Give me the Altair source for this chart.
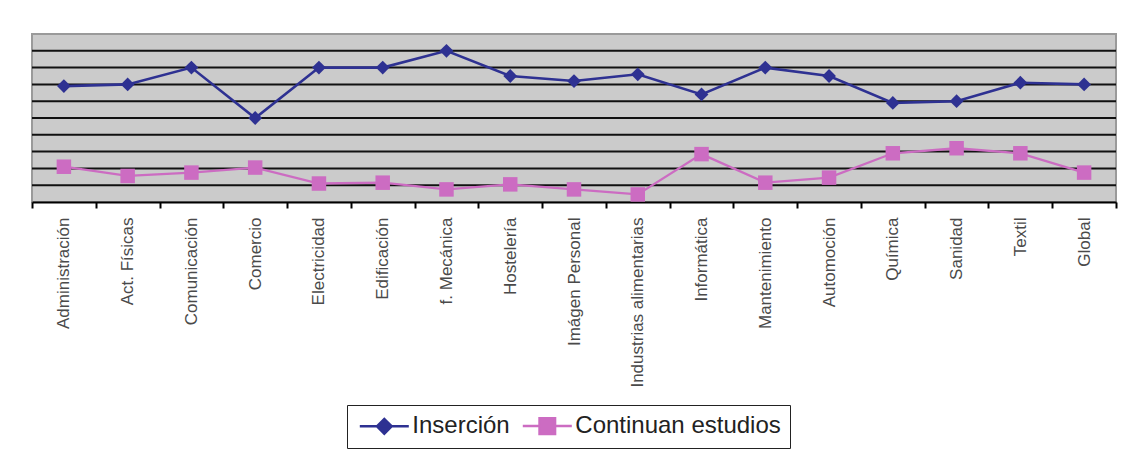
import altair as alt
import pandas as pd

categories = ["Administración", "Act.  Físicas", "Comunicación", "Comercio", "Electricidad",
              "Edificación", "f.  Mecánica", "Hostelería", "Imágen  Personal",
              "Industrias  alimentarias", "Informática", "Mantenimiento", "Automoción",
              "Química", "Sanidad", "Textil", "Global"]
insercion = [69, 70, 80, 50, 80, 80, 90, 75, 72, 76, 64, 80, 75, 59, 60, 71, 70]
continuan = [21, 15.5, 17.5, 20.5, 11, 11.5, 7.5, 10.5, 7.5, 4.5, 28.5, 11.5, 14.5, 29, 32, 29, 17.5]
series_names = ["Inserción", "Continuan estudios"]
series_colors = ["#2E3192", "#CC6CC2"]
y_ticks = [0, 10, 20, 30, 40, 50, 60, 70, 80, 90, 100]
grid_vals = [10, 20, 30, 40, 50, 60, 70, 80, 90]

rows = []
for i, c in enumerate(categories):
    rows.append({"cat": c, "serie": series_names[0], "valor": insercion[i]})
    rows.append({"cat": c, "serie": series_names[1], "valor": continuan[i]})
df = pd.DataFrame(rows)

FONT = "Liberation Sans"

x_enc = alt.X("cat:N", sort=categories, title=None,
              scale=alt.Scale(type="band", domain=categories, paddingInner=0, paddingOuter=0),
              axis=alt.Axis(labelAngle=-90, labelFont=FONT, labelFontSize=17, labelColor="#4a4a4a",
                            labelPadding=9, tickBand="extent", tickSize=6, tickWidth=2,
                            tickColor="black", domainColor="black", domainWidth=2, grid=False,
                            labelBaseline="middle", labelAlign="right"))
y_enc = alt.Y("valor:Q", title=None,
              scale=alt.Scale(domain=[0, 100], nice=False, zero=True),
              axis=alt.Axis(values=y_ticks, labels=False, tickSize=5, tickWidth=2, tickColor="black",
                            domainColor="black", domainWidth=2, grid=False))

base = alt.Chart(df)

grid = alt.Chart(pd.DataFrame({"g": grid_vals})).mark_rule(color="#111111", strokeWidth=2).encode(
    y=alt.Y("g:Q", scale=alt.Scale(domain=[0, 100], nice=False), axis=None)
)

line_ins = base.transform_filter(alt.datum.serie == series_names[0]).mark_line(
    color=series_colors[0], strokeWidth=2.6).encode(x=x_enc, y=y_enc)
pts_ins = base.transform_filter(alt.datum.serie == series_names[0]).mark_point(
    shape="diamond", filled=True, color=series_colors[0], size=190, opacity=1).encode(x=x_enc, y=y_enc)
line_con = base.transform_filter(alt.datum.serie == series_names[1]).mark_line(
    color=series_colors[1], strokeWidth=2.3).encode(x=x_enc, y=y_enc)
pts_con = base.transform_filter(alt.datum.serie == series_names[1]).mark_point(
    shape="square", filled=True, color=series_colors[1], size=210, opacity=1).encode(x=x_enc, y=y_enc)

# legend glyphs: a line segment with the marker in its middle (r = sqrt(symbolSize)/2)
leg_shapes = ["M-3,0H3M-0.9,0L0,-0.9L0.9,0L0,0.9Z",
              "M-3,0H3M-0.95,-0.95H0.95V0.95H-0.95Z"]

leg = alt.Legend(title=None)
legend_layer = base.mark_point(filled=True, clip=True, opacity=1, strokeWidth=2.5).encode(
    x=x_enc,
    y=alt.value(-500),
    fill=alt.Fill("serie:N", scale=alt.Scale(domain=series_names, range=series_colors), legend=leg),
    stroke=alt.Stroke("serie:N", scale=alt.Scale(domain=series_names, range=series_colors), legend=leg),
    shape=alt.Shape("serie:N", scale=alt.Scale(domain=series_names, range=leg_shapes), legend=leg),
)

chart = alt.layer(grid, line_con, pts_con, line_ins, pts_ins, legend_layer).properties(
    width=1084, height=168,
    autosize=alt.AutoSizeParams(type="none"),
    padding={"left": 24, "top": 26, "right": 7, "bottom": 249},
    background="white",
).configure_view(
    fill="#CBCBCB", stroke="#9A9A9A", strokeWidth=2
).configure_legend(
    orient="none", legendX=315, legendY=371, direction="horizontal",
    strokeColor="#222222", fillColor="white", padding=9, cornerRadius=0,
    symbolSize=267, symbolStrokeWidth=2.5, symbolOffset=16.3,
    labelFont=FONT, labelFontSize=24, labelLimit=0,
    labelColor="#222222", labelOffset=16, columnPadding=7,
)

chart.save("out.html", embed_options={"renderer": "svg", "actions": False})
